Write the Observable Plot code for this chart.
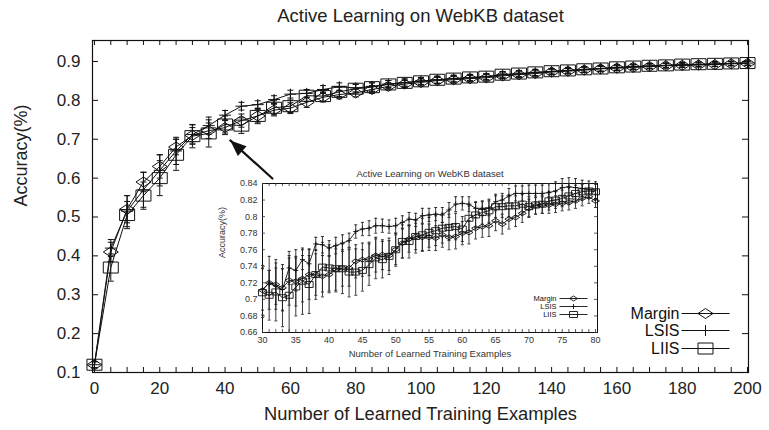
<!DOCTYPE html>
<html><head><meta charset="utf-8">
<script src="https://cdn.jsdelivr.net/npm/d3@7"></script>
<script src="https://cdn.jsdelivr.net/npm/@observablehq/plot@0.6"></script>
<style>
body{margin:0;background:#fff;}
#wrap{position:relative;width:769px;height:430px;overflow:hidden;}
#wrap svg{position:absolute;}
</style></head><body><div id="wrap"></div>
<script>
// ---------- data ----------
const seriesNames = ["Margin", "LSIS", "LIIS"];
const chartTitle = "Active Learning on WebKB dataset";
const xTitle = "Number of Learned Training Examples";
const yTitle = "Accuracy(%)";

const mainX = [0,5,10,15,20,25,30,35,40,45,50,55,60,65,70,75,80,85,90,95,100,105,110,115,120,125,130,135,140,145,150,155,160,165,170,175,180,185,190,195,200];
const mainMargin = [0.12,0.41,0.52,0.59,0.63,0.68,0.71,0.722,0.73,0.748,0.76,0.775,0.78,0.795,0.808,0.815,0.819,0.828,0.836,0.842,0.846,0.851,0.853,0.856,0.858,0.863,0.866,0.869,0.873,0.875,0.878,0.881,0.883,0.885,0.887,0.889,0.89,0.891,0.892,0.894,0.895];
const mainLSIS = [0.12,0.42,0.515,0.57,0.62,0.67,0.712,0.735,0.762,0.785,0.789,0.802,0.816,0.818,0.828,0.835,0.832,0.836,0.842,0.846,0.85,0.853,0.856,0.858,0.861,0.866,0.868,0.871,0.874,0.877,0.879,0.882,0.884,0.886,0.888,0.89,0.891,0.892,0.893,0.895,0.896];
const mainLIIS = [0.12,0.37,0.505,0.555,0.60,0.66,0.708,0.715,0.738,0.735,0.76,0.781,0.785,0.812,0.811,0.822,0.83,0.834,0.841,0.845,0.849,0.853,0.856,0.859,0.861,0.866,0.869,0.872,0.875,0.877,0.88,0.882,0.885,0.887,0.889,0.89,0.892,0.893,0.894,0.895,0.896];
const mainErrMargin = [0.008,0.025,0.035,0.025,0.03,0.02,0.02,0.02,0.018,0.017,0.016,0.015,0.014,0.013,0.012,0.011,0.01,0.01,0.009,0.009,0.009,0.008,0.008,0.008,0.008,0.007,0.007,0.007,0.007,0.007,0.006,0.006,0.006,0.006,0.006,0.006,0.005,0.005,0.005,0.005,0.005];
const mainErrLSIS = [0.008,0.022,0.04,0.045,0.04,0.035,0.025,0.022,0.012,0.01,0.01,0.01,0.01,0.01,0.01,0.01,0.01,0.009,0.009,0.009,0.009,0.009,0.008,0.008,0.008,0.008,0.008,0.008,0.007,0.007,0.007,0.007,0.007,0.007,0.006,0.006,0.006,0.006,0.006,0.006,0.006];
const mainErrLIIS = [0.008,0.035,0.035,0.035,0.045,0.04,0.03,0.035,0.022,0.02,0.02,0.018,0.016,0.015,0.013,0.012,0.011,0.011,0.01,0.01,0.009,0.009,0.009,0.008,0.008,0.008,0.008,0.008,0.007,0.007,0.007,0.007,0.007,0.006,0.006,0.006,0.006,0.006,0.006,0.005,0.005];

const insetX = [30,31,32,33,34,35,36,37,38,39,40,41,42,43,44,45,46,47,48,49,50,51,52,53,54,55,56,57,58,59,60,61,62,63,64,65,66,67,68,69,70,71,72,73,74,75,76,77,78,79,80];
const insetMargin = [0.711,0.72,0.718,0.714,0.723,0.722,0.725,0.73,0.73,0.728,0.73,0.736,0.738,0.738,0.746,0.748,0.749,0.753,0.754,0.753,0.76,0.768,0.773,0.776,0.775,0.775,0.774,0.778,0.775,0.776,0.78,0.781,0.786,0.788,0.789,0.795,0.791,0.797,0.799,0.804,0.81,0.813,0.814,0.814,0.815,0.816,0.817,0.819,0.822,0.824,0.819];
const insetLSIS = [0.712,0.72,0.716,0.712,0.738,0.735,0.748,0.743,0.767,0.766,0.762,0.765,0.768,0.771,0.782,0.785,0.786,0.789,0.789,0.788,0.789,0.793,0.797,0.796,0.801,0.802,0.803,0.802,0.808,0.815,0.816,0.815,0.81,0.81,0.81,0.818,0.82,0.825,0.828,0.828,0.828,0.828,0.828,0.829,0.831,0.835,0.836,0.835,0.834,0.833,0.832];
const insetLIIS = [0.708,0.705,0.709,0.702,0.705,0.715,0.722,0.718,0.73,0.739,0.738,0.737,0.737,0.733,0.733,0.735,0.742,0.75,0.748,0.752,0.76,0.77,0.77,0.776,0.778,0.781,0.783,0.786,0.787,0.788,0.785,0.798,0.802,0.805,0.807,0.812,0.812,0.813,0.813,0.815,0.812,0.814,0.815,0.819,0.82,0.822,0.825,0.828,0.83,0.831,0.83];
const insetErrMargin = [0.03,0.032,0.03,0.028,0.03,0.03,0.028,0.03,0.025,0.025,0.022,0.025,0.022,0.022,0.02,0.02,0.02,0.02,0.018,0.018,0.018,0.018,0.016,0.016,0.016,0.016,0.015,0.015,0.015,0.015,0.014,0.014,0.013,0.013,0.013,0.012,0.012,0.012,0.011,0.011,0.011,0.01,0.01,0.01,0.01,0.009,0.009,0.009,0.009,0.008,0.008];
const insetErrLSIS = [0.025,0.015,0.022,0.025,0.02,0.025,0.012,0.018,0.008,0.01,0.009,0.01,0.01,0.009,0.008,0.008,0.009,0.009,0.008,0.008,0.009,0.008,0.008,0.008,0.009,0.008,0.008,0.009,0.009,0.009,0.008,0.009,0.008,0.008,0.009,0.009,0.008,0.009,0.009,0.009,0.01,0.01,0.01,0.011,0.011,0.011,0.011,0.011,0.01,0.01,0.01];
const insetErrLIIS = [0.03,0.03,0.035,0.035,0.045,0.035,0.04,0.035,0.03,0.03,0.028,0.028,0.03,0.03,0.028,0.025,0.025,0.025,0.022,0.022,0.02,0.02,0.02,0.02,0.02,0.018,0.018,0.018,0.016,0.016,0.015,0.015,0.015,0.014,0.014,0.013,0.013,0.013,0.012,0.012,0.012,0.011,0.011,0.011,0.01,0.01,0.01,0.01,0.009,0.009,0.009];

const mainXTicks = [0,20,40,60,80,100,120,140,160,180,200];
const mainXMinor = [0,5,10,15,20,25,30,35,40,45,50,55,60,65,70,75,80,85,90,95,100,105,110,115,120,125,130,135,140,145,150,155,160,165,170,175,180,185,190,195,200];
const mainYTicks = [0.1,0.2,0.3,0.4,0.5,0.6,0.7,0.8,0.9];
const insetXTicks = [30,35,40,45,50,55,60,65,70,75,80];
const insetYTicks = [0.66,0.68,0.7,0.72,0.74,0.76,0.78,0.8,0.82,0.84];
// arrow annotation (data units of the main chart): from near the inset to the curve
const arrowData = [{x1: 54.5, y1: 0.599, x2: 41.6, y2: 0.697}];

// ---------- helpers ----------
const FONT = "'Liberation Sans', Arial, Helvetica, sans-serif";
const INK = "#111";
const rectSym = (w, h) => ({draw(c) { c.moveTo(-w/2, -h/2); c.lineTo(w/2, -h/2); c.lineTo(w/2, h/2); c.lineTo(-w/2, h/2); c.closePath(); }});
const diamondSym = (w, h) => ({draw(c) { c.moveTo(-w/2, 0); c.lineTo(0, -h/2); c.lineTo(w/2, 0); c.lineTo(0, h/2); c.closePath(); }});
const plusSym = (w, h) => ({draw(c) { c.moveTo(-w/2, 0); c.lineTo(w/2, 0); c.moveTo(0, -h/2); c.lineTo(0, h/2); }});
const hline = (w) => ({draw(c) { c.moveTo(-w/2, 0); c.lineTo(w/2, 0); }});
const headSym = {draw(c) { c.moveTo(0, 0); c.lineTo(-6.5, 16); c.lineTo(6.5, 16); c.closePath(); }};

function table(xs, ys, es) { return xs.map((x, i) => ({x, y: ys[i], e: es[i]})); }

const mainSeries = [table(mainX, mainMargin, mainErrMargin), table(mainX, mainLSIS, mainErrLSIS), table(mainX, mainLIIS, mainErrLIIS)];
const insetSeries = [table(insetX, insetMargin, insetErrMargin), table(insetX, insetLSIS, insetErrLSIS), table(insetX, insetLIIS, insetErrLIIS)];

function seriesMarks(series, syms, capW, lw, ebColor, ebW) {
  const m = [];
  series.forEach((d) => {
    m.push(Plot.ruleX(d, {x: "x", y1: r => r.y - r.e, y2: r => r.y + r.e, stroke: ebColor, strokeWidth: ebW}));
    m.push(Plot.dot(d, {x: "x", y: r => r.y - r.e, symbol: hline(capW), stroke: ebColor, strokeWidth: ebW, fill: "none"}));
    m.push(Plot.dot(d, {x: "x", y: r => r.y + r.e, symbol: hline(capW), stroke: ebColor, strokeWidth: ebW, fill: "none"}));
  });
  series.forEach((d, i) => {
    m.push(Plot.line(d, {x: "x", y: "y", stroke: INK, strokeWidth: lw}));
    m.push(Plot.dot(d, {x: "x", y: "y", symbol: syms[i], stroke: INK, strokeWidth: lw, fill: "none"}));
  });
  return m;
}

function legendMarks(syms, textDx, markDx, lineW, dys, fontSize, lw) {
  const m = [];
  seriesNames.forEach((name, i) => {
    m.push(Plot.text([name], {text: d => d, frameAnchor: "top-right", dx: textDx, dy: dys[i], textAnchor: "end", lineAnchor: "middle", fontSize, fill: INK}));
    m.push(Plot.dot([name], {frameAnchor: "top-right", dx: markDx, dy: dys[i], symbol: hline(lineW), stroke: INK, strokeWidth: lw}));
    m.push(Plot.dot([name], {frameAnchor: "top-right", dx: markDx, dy: dys[i], symbol: syms[i], stroke: INK, strokeWidth: lw, fill: "none"}));
  });
  return m;
}

// ---------- main chart ----------
const W = 769, H = 430, mL = 92, mR = 21, mT = 40, mB = 58;
const fw = W - mL - mR, fh = H - mT - mB;
const mainSyms = [diamondSym(15, 10), plusSym(12, 11), rectSym(15, 11)];

const main = Plot.plot({
  width: W, height: H, marginLeft: mL, marginRight: mR, marginTop: mT, marginBottom: mB,
  style: {fontFamily: FONT, background: "transparent", color: INK},
  x: {domain: [-0.6, 200.3]},
  y: {domain: [0.1, 0.954]},
  marks: [
    Plot.frame({stroke: INK, strokeWidth: 1.2}),
    Plot.tickX(mainXMinor, {x: d => d, insetTop: fh - 5, stroke: INK}),
    Plot.tickX(mainXMinor, {x: d => d, insetBottom: fh - 5, stroke: INK}),
    Plot.tickY(mainYTicks, {y: d => d, insetRight: fw - 6, stroke: INK}),
    Plot.tickY(mainYTicks, {y: d => d, insetLeft: fw - 6, stroke: INK}),
    Plot.axisX({ticks: mainXTicks, tickSize: 0, tickPadding: 9, fontSize: 17, label: null, tickFormat: d => String(d), fill: "#222"}),
    Plot.axisY({ticks: mainYTicks, tickSize: 0, tickPadding: 12, fontSize: 17, label: null, tickFormat: d => String(d), fill: "#222"}),
    Plot.text([chartTitle], {text: d => d, frameAnchor: "top", dy: -24, lineAnchor: "middle", fontSize: 18.5, fill: "#222"}),
    Plot.text([xTitle], {text: d => d, frameAnchor: "bottom", dy: 42, lineAnchor: "middle", fontSize: 18.3, fill: "#222"}),
    Plot.text([yTitle], {text: d => d, frameAnchor: "left", dx: -71, rotate: -90, lineAnchor: "middle", fontSize: 18, fill: "#222"}),
    ...seriesMarks(mainSeries, mainSyms, 6, 1, INK, 1),
    Plot.arrow(arrowData, {x1: "x1", y1: "y1", x2: "x2", y2: "y2", headLength: 0, stroke: INK, strokeWidth: 2.2}),
    Plot.dot(arrowData, {x: "x2", y: "y2", symbol: headSym, rotate: -48, fill: INK, stroke: "none"}),
    ...legendMarks(mainSyms, -69, -43, 48, [273, 290, 308], 16, 1)
  ]
});
main.style.left = "0px"; main.style.top = "0px";
document.getElementById("wrap").appendChild(main);

// ---------- inset chart ----------
const IW = 420, IH = 200, iL = 62, iR = 23, iT = 23, iB = 28;
const ifw = IW - iL - iR, ifh = IH - iT - iB;
const insetSyms = [diamondSym(8, 5), plusSym(5, 5), rectSym(8, 6)];

const inset = Plot.plot({
  width: IW, height: IH, marginLeft: iL, marginRight: iR, marginTop: iT, marginBottom: iB,
  style: {fontFamily: FONT, background: "transparent", color: INK},
  x: {domain: [30, 80.3]},
  y: {domain: [0.66, 0.84]},
  marks: [
    Plot.frame({stroke: INK, strokeWidth: 1}),
    Plot.tickX(insetX, {x: d => d, insetTop: ifh - 3, stroke: "#333", strokeWidth: 0.8}),
    Plot.tickX(insetX, {x: d => d, insetBottom: ifh - 3, stroke: "#333", strokeWidth: 0.8}),
    Plot.tickY(insetYTicks, {y: d => d, insetRight: ifw - 3, stroke: "#333", strokeWidth: 0.8}),
    Plot.tickY(insetYTicks, {y: d => d, insetLeft: ifw - 3, stroke: "#333", strokeWidth: 0.8}),
    Plot.axisX({ticks: insetXTicks, tickSize: 0, tickPadding: 4, fontSize: 9, label: null, tickFormat: d => String(d), fill: "#333"}),
    Plot.axisY({ticks: insetYTicks, tickSize: 0, tickPadding: 5, fontSize: 9, label: null, tickFormat: d => String(d), fill: "#333"}),
    Plot.text([chartTitle], {text: d => d, frameAnchor: "top", dy: -10, lineAnchor: "middle", fontSize: 9.5, fill: "#333"}),
    Plot.text([xTitle], {text: d => d, frameAnchor: "bottom", dy: 21, lineAnchor: "middle", fontSize: 9.5, fill: "#333"}),
    Plot.text([yTitle], {text: d => d, frameAnchor: "left", dx: -40, rotate: -90, lineAnchor: "middle", fontSize: 9, fill: "#333"}),
    ...seriesMarks(insetSeries, insetSyms, 3, 0.9, "#222", 0.9),
    ...legendMarks(insetSyms, -41, -24, 28, [115, 123, 131], 7.5, 0.9)
  ]
});
inset.style.left = "200px"; inset.style.top = "160px";
document.getElementById("wrap").appendChild(inset);
</script>
</body></html>
